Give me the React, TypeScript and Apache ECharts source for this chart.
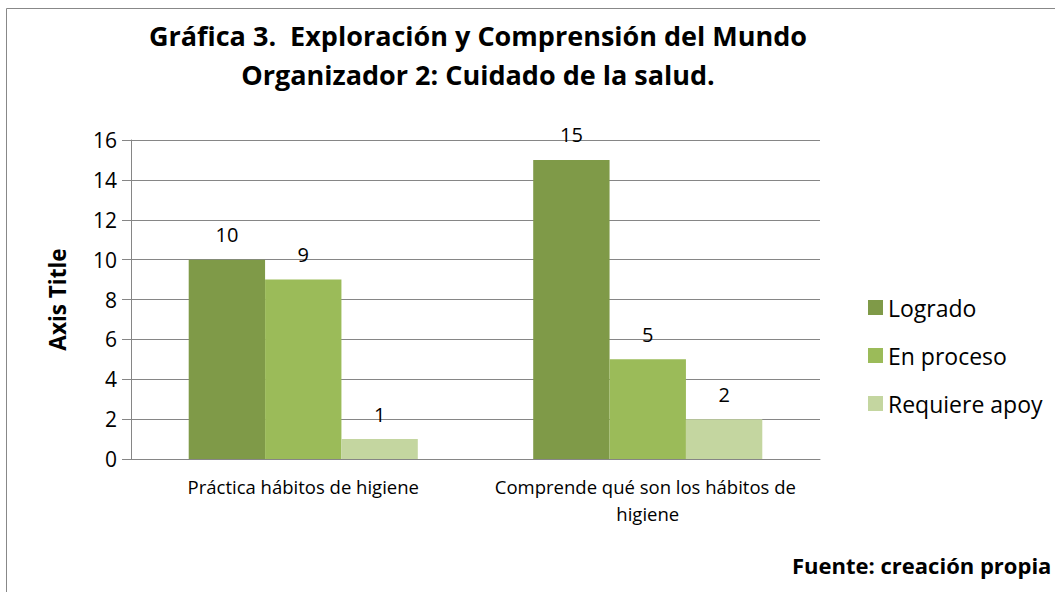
import React, { useEffect, useRef } from "react";
import * as echarts from "echarts";

const categories = ["Práctica hábitos de higiene", "Comprende qué son los hábitos de higiene"];
const seriesNames = ["Logrado", "En proceso", "Requiere apoy"];
const logrado = [10, 15];
const enProceso = [9, 5];
const requiereApoyo = [1, 2];
const colors = ["#7F9A48", "#9BBB59", "#C4D6A0"];
const yTicks = { min: 0, max: 16, interval: 2 };

const FONT = "Open Sans";

export default function App() {
  const ref = useRef<HTMLDivElement>(null);
  useEffect(() => {
    document.body.style.margin = "0";
    const chart = echarts.init(ref.current!, null, { renderer: "svg" });
    const values = [logrado, enProceso, requiereApoyo];
    chart.setOption({
      animation: false,
      backgroundColor: "#fff",
      textStyle: { fontFamily: FONT },
      title: {
        text: "Gráfica 3.  Exploración y Comprensión del Mundo\nOrganizador 2: Cuidado de la salud.",
        left: 473,
        top: 11,
        textAlign: "center",
        textStyle: { fontFamily: FONT, fontWeight: "bold", fontSize: 27, lineHeight: 39, color: "#000" },
      },
      legend: {
        orient: "vertical",
        left: 863,
        top: 291,
        itemWidth: 15,
        itemHeight: 15,
        itemGap: 25,
        icon: "rect",
        textStyle: { fontFamily: FONT, fontSize: 23, color: "#000" },
        data: seriesNames,
      },
      grid: { left: 131, top: 140, right: 235, bottom: 133, containLabel: false },
      xAxis: {
        type: "category",
        data: categories,
        axisLine: { lineStyle: { color: "#868686", width: 1 } },
        axisTick: { show: false },
        axisLabel: {
          fontFamily: FONT,
          fontSize: 18.5,
          color: "#000",
          margin: 14,
          lineHeight: 27,
          width: 330,
          overflow: "break",
          interval: 0,
        },
      },
      yAxis: {
        type: "value",
        min: yTicks.min,
        max: yTicks.max,
        interval: yTicks.interval,
        name: "Axis Title",
        nameLocation: "middle",
        nameGap: 62,
        nameTextStyle: { fontFamily: FONT, fontWeight: "bold", fontSize: 22.5, color: "#000" },
        axisLine: { show: true, lineStyle: { color: "#868686" } },
        axisTick: { show: true, length: 9, lineStyle: { color: "#868686" } },
        splitLine: { lineStyle: { color: "#868686" } },
        axisLabel: { fontFamily: FONT, fontSize: 21, color: "#000", margin: 14 },
      },
      series: seriesNames.map((n, i) => ({
        name: n,
        type: "bar",
        data: values[i],
        barGap: "0%",
        barCategoryGap: "33.5%",
        itemStyle: { color: colors[i] },
        label: { show: true, position: "top", distance: 15, fontFamily: FONT, fontSize: 20, color: "#000" },
      })),
      graphic: [
        {
          type: "rect",
          shape: { x: 6.5, y: 8.5, width: 1200, height: 800 },
          style: { fill: "none", stroke: "#888", lineWidth: 1 },
          z: 100,
        },
        {
          type: "text",
          left: 792,
          top: 554,
          style: { text: "Fuente: creación propia", fontFamily: FONT, fontWeight: "bold", fontSize: 22, fill: "#000" },
        },
      ],
    });
    return () => chart.dispose();
  }, []);
  return <div ref={ref} style={{ width: 1055, height: 592 }} />;
}
